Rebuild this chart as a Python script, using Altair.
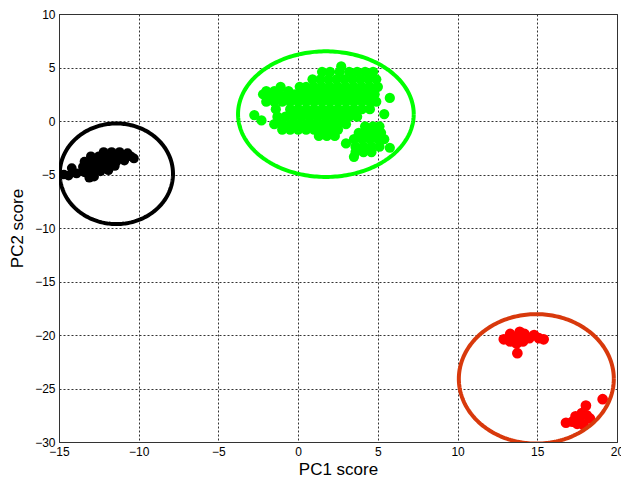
import altair as alt
import numpy as np
import pandas as pd

# PCA scores for the three groups
black_x = [-12.2, -11.7, -11.2, -10.7,
           -13.0, -12.5, -12.0, -11.5, -11.0, -10.5, -10.3,
           -13.4, -12.9, -12.4, -11.9, -11.4, -10.9,
           -13.5, -13.0, -12.5, -12.0, -11.5,
           -14.2,
           -13.4, -12.9, -12.4, -11.9,
           -14.7, -14.4, -13.9, -13.1, -12.8]
black_y = [-2.9, -2.9, -2.9, -3.0,
           -3.3, -3.3, -3.3, -3.3, -3.3, -3.3, -3.5,
           -3.8, -3.8, -3.8, -3.8, -3.8, -3.7,
           -4.3, -4.3, -4.3, -4.3, -4.2,
           -4.4,
           -4.8, -4.8, -4.7, -4.6,
           -5.0, -5.1, -4.9, -5.3, -5.2]

green_x = [2.7,
           1.5, 2.0, 2.6, 3.2, 3.7, 4.2, 4.7,
           0.9, 1.4, 1.9, 2.4, 2.9, 3.4, 3.9, 4.4, 4.9,
           -1.1, 0.1, 0.5, 1.0, 1.5, 2.0, 2.5, 3.0, 3.5, 4.0, 4.5, 5.0,
           -2.0, -1.5, -0.6,
           -2.2, -1.7, -1.2, -0.7, -0.2, 0.3, 0.8, 1.3, 1.8, 2.3, 2.8, 3.3, 3.8, 4.3, 4.8,
           5.75,
           -2.0, -1.5, -1.0, -0.5, 0.0, 0.5, 1.0, 1.5, 2.0, 2.5, 3.0, 3.5, 4.0, 4.5, 4.9,
           -1.4, -0.5, 0.0, 0.5, 1.0, 1.5, 2.0, 2.5, 3.0, 3.5, 4.0, 4.5,
           5.4, -2.75,
           -1.3, -0.8, -0.3, 0.2, 0.7, 1.2, 1.7, 2.2, 2.7, 3.2, 3.7,
           -2.3,
           -1.5, -1.0, -0.5, 0.0, 0.5, 1.0, 1.5, 2.0, 2.5, 3.0,
           -1.0, -0.5, 0.0, 0.5, 1.0, 1.5, 2.0, 2.5,
           1.3, 1.8, 2.3,
           4.2, 4.7, 5.1,
           3.8, 4.3, 4.8, 5.2,
           3.5, 4.0, 4.5, 5.0, 5.4,
           3.0,
           3.6, 4.1, 4.6, 5.1, 5.75,
           3.6, 4.1, 4.6,
           3.5]
green_y = [5.1,
           4.6, 4.6, 4.6, 4.6, 4.6, 4.6, 4.6,
           3.9, 3.9, 3.9, 3.9, 3.9, 3.9, 3.9, 3.9, 3.9,
           3.2, 3.2, 3.2, 3.2, 3.2, 3.2, 3.2, 3.2, 3.2, 3.2, 3.2, 3.2,
           2.8, 2.8, 2.8,
           2.5, 2.5, 2.5, 2.5, 2.5, 2.5, 2.5, 2.5, 2.5, 2.5, 2.5, 2.5, 2.5, 2.5, 2.5,
           2.15,
           1.8, 1.8, 1.8, 1.8, 1.8, 1.8, 1.8, 1.8, 1.8, 1.8, 1.8, 1.8, 1.8, 1.8, 1.8,
           1.1, 1.1, 1.1, 1.1, 1.1, 1.1, 1.1, 1.1, 1.1, 1.1, 1.1, 1.1,
           0.65, 0.55,
           0.4, 0.4, 0.4, 0.4, 0.4, 0.4, 0.4, 0.4, 0.4, 0.4, 0.4,
           0.05,
           -0.3, -0.3, -0.3, -0.3, -0.3, -0.3, -0.3, -0.3, -0.3, -0.3,
           -0.8, -0.8, -0.8, -0.8, -0.8, -0.8, -0.8, -0.8,
           -1.4, -1.4, -1.4,
           -0.5, -0.5, -0.5,
           -1.1, -1.1, -1.1, -1.1,
           -1.7, -1.7, -1.7, -1.7, -1.7,
           -2.1,
           -2.4, -2.4, -2.4, -2.4, -2.5,
           -2.9, -2.9, -2.9,
           -3.35]

red_x = [12.9, 13.3, 13.3, 13.7, 13.9, 14.2, 14.1, 14.5, 14.8, 15.1, 15.4, 13.75, 13.7,
         16.8, 17.2, 17.4, 17.6, 17.8, 17.9, 18.1, 18.3, 18.05, 19.1, 17.5]
red_y = [-20.4, -19.9, -20.6, -20.2, -19.7, -19.9, -20.6, -20.3, -20.0, -20.3, -20.4, -21.7, -20.8,
         -28.2, -28.1, -27.6, -27.9, -27.3, -28.4, -27.5, -27.8, -26.6, -26.0, -28.3]

# Marker area per group (px^2)
marker_size = {"black": 95, "green": 115, "red": 90}

# Group ellipses: centre and semi-axes
ell_group = ["black", "green", "red"]
ell_cx = [-11.4, 1.74, 14.94]
ell_cy = [-4.93, 0.64, -24.1]
ell_rx = [3.55, 5.51, 4.86]
ell_ry = [4.7, 5.87, 6.05]

colors = {"black": "#000000", "green": "#00ff00", "red": "#ff0000"}
ell_colors = {"black": "#000000", "green": "#00ff00", "red": "#d8390c"}

pts = pd.concat([
    pd.DataFrame({"x": black_x, "y": black_y, "group": "black"}),
    pd.DataFrame({"x": green_x, "y": green_y, "group": "green"}),
    pd.DataFrame({"x": red_x, "y": red_y, "group": "red"}),
], ignore_index=True)

t = np.linspace(0, 2 * np.pi, 241)
rows = []
for g, cx, cy, rx, ry in zip(ell_group, ell_cx, ell_cy, ell_rx, ell_ry):
    for i, a in enumerate(t):
        rows.append({"x": cx + rx * np.cos(a), "y": cy + ry * np.sin(a), "group": g, "i": i})
ell = pd.DataFrame(rows)

xscale = alt.Scale(domain=[-15, 20], nice=False, zero=False)
yscale = alt.Scale(domain=[-30, 10], nice=False, zero=False)
xaxis = alt.Axis(title="PC1 score", values=list(range(-15, 21, 5)), titlePadding=4)
yaxis = alt.Axis(title="PC2 score", values=list(range(-30, 11, 5)), titlePadding=8)

points = alt.Chart(pts).mark_circle(opacity=1, clip=True).encode(
    x=alt.X("x:Q", scale=xscale, axis=xaxis),
    y=alt.Y("y:Q", scale=yscale, axis=yaxis),
    color=alt.Color("group:N", scale=alt.Scale(domain=list(colors), range=list(colors.values())), legend=None),
    size=alt.Size("group:N", scale=alt.Scale(domain=list(marker_size), range=list(marker_size.values())), legend=None),
)

ellipses = alt.Chart(ell).mark_line(strokeWidth=4, clip=True).encode(
    x=alt.X("x:Q", scale=xscale),
    y=alt.Y("y:Q", scale=yscale),
    detail="group:N",
    order="i:Q",
    color=alt.Color("group:N", scale=alt.Scale(domain=list(ell_colors), range=list(ell_colors.values())), legend=None),
)

chart = alt.layer(points, ellipses).resolve_scale(color="independent").properties(
    width=558,
    height=428,
    padding={"left": 59, "top": 14, "right": 4, "bottom": 40},
    autosize=alt.AutoSizeParams(type="none"),
    background="white",
).configure_view(
    stroke="#333333", strokeWidth=1
).configure_axis(
    labelFont="Liberation Sans", titleFont="Liberation Sans",
    labelFontSize=12, titleFontSize=17, titleFontWeight="normal",
    labelColor="#000000", titleColor="#000000",
    domainColor="#333333", ticks=False, labelPadding=4,
    grid=True, gridColor="#333333", gridDash=[2, 2], gridOpacity=1, gridWidth=1,
    labelOverlap=False, labelFlush=False, labelBound=False,
)

chart.save("out.html", embed_options={"renderer": "svg", "actions": False})
